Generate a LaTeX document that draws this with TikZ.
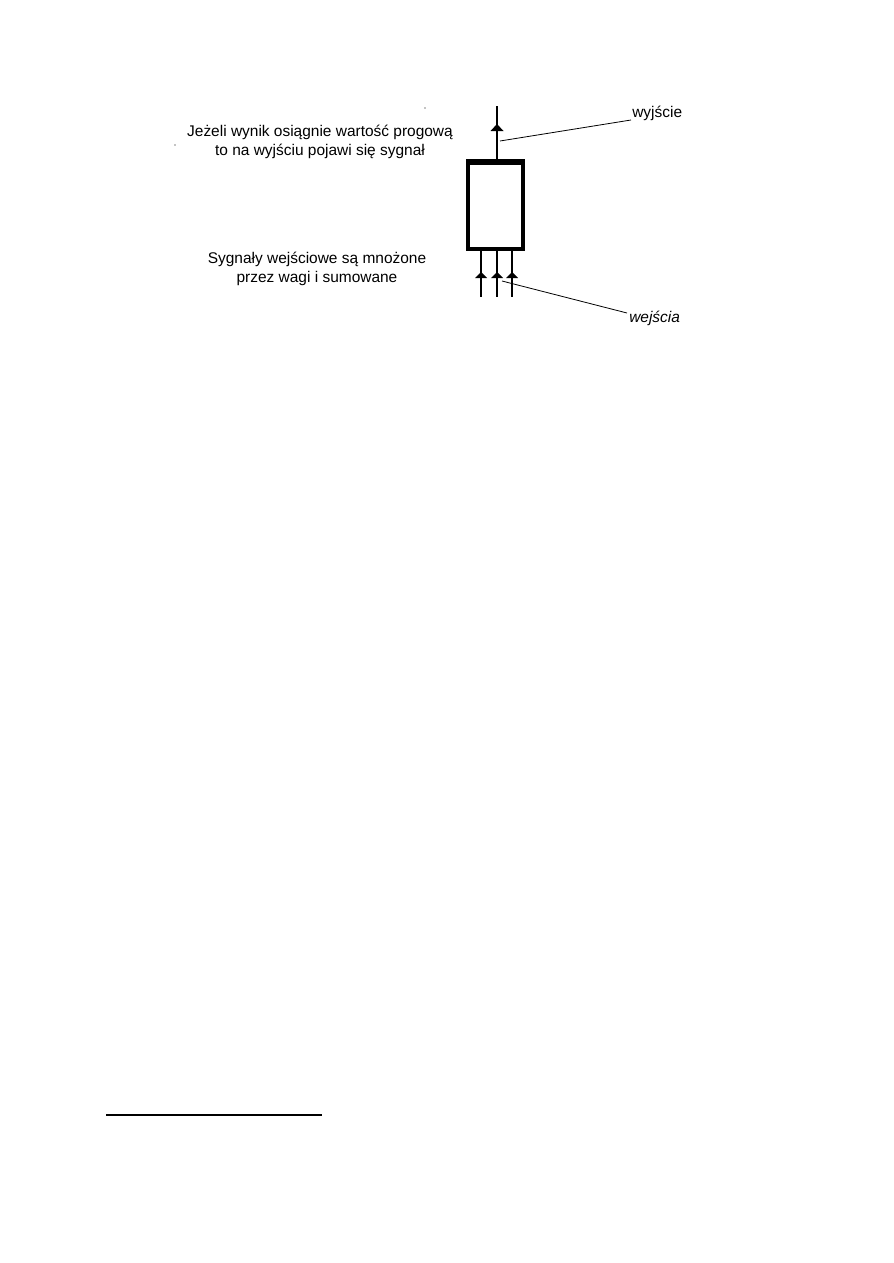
\documentclass[tikz,border=0pt]{standalone}
\usepackage{fontspec}
\setmainfont{Liberation Sans}
\usetikzlibrary{arrows.meta}
\begin{document}
\begin{tikzpicture}[x=0.75pt,y=-0.75pt,
  lbl/.style={font=\fontsize{11.6}{14.25}\selectfont, inner sep=0pt, align=center},
  sig/.style={line width=0.9pt},
  tri/.style={fill=black},
  lead/.style={line width=0.6pt},
  neuron/.style={draw, line width=2.4pt, minimum width=41.25pt, minimum height=64.5pt, inner sep=0pt}]
\useasboundingbox (0,0) rectangle (893,1263);
% neuron box
\node[neuron] (box) at (495.5,206) {};
\draw[line width=3.2pt] (box.north west) -- (box.north east);
% output
\coordinate (outend) at (497,106);
\draw[sig] (box.north -| outend) -- (outend);
\fill[tri] (497,124) -- (503.5,131) -- (490.5,131) -- cycle;
\coordinate (outleadA) at (500,141);
\coordinate (outleadB) at (631,120);
\draw[lead] (outleadA) -- (outleadB);
\node[lbl, anchor=west] (wyj) at (632,113) {wyjście};
% inputs
\foreach \x/\n in {481/a,497/b,512/c}{
  \coordinate (in\n bot) at (\x,297);
  \draw[sig] (box.south -| in\n bot) -- (in\n bot);
  \fill[tri] (\x,272) -- (\x+6,278) -- (\x-6,278) -- cycle;
}
\coordinate (inleadA) at (502,281);
\coordinate (inleadB) at (627,313);
\draw[lead] (inleadA) -- (inleadB);
\node[lbl, anchor=west, font=\fontsize{11.6}{14.25}\selectfont\itshape] (wej) at (629,318) {wejścia};
% texts
\node[lbl] (t1) at (320,142) {Jeżeli wynik osiągnie wartość progową\\to na wyjściu pojawi się sygnał};
\node[lbl] (t2) at (317,269) {Sygnały wejściowe są mnożone\\przez wagi i sumowane};
% specks
\fill (425,108) circle (0.6);
\fill (175,145) circle (0.6);
% footnote rule
\coordinate (fnA) at (106,1115);
\coordinate (fnB) at (322,1115);
\draw[line width=0.8pt] (fnA) -- (fnB);
\end{tikzpicture}
\end{document}
